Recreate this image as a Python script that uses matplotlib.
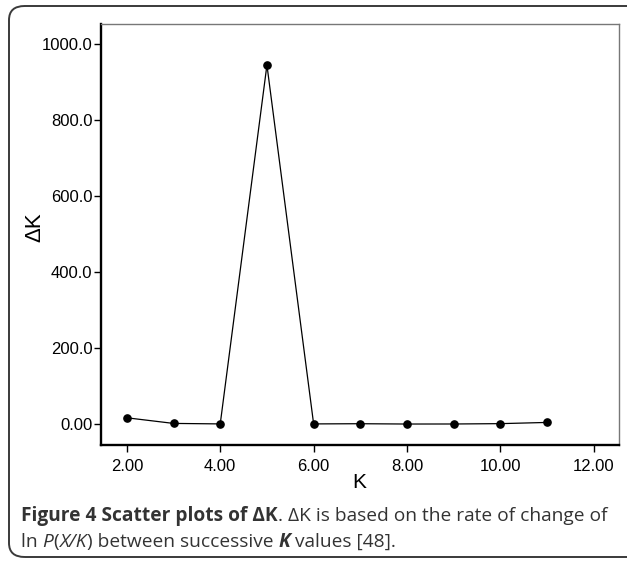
import matplotlib
matplotlib.use('Agg')
import matplotlib.pyplot as plt
from matplotlib.patches import FancyBboxPatch

# Dados
k_valores = [2, 3, 4, 5, 6, 7, 8, 9, 10, 11]
delta_k = [16.6, 1.8, 0.5, 945.0, 0.5, 1.0, 0.2, 0.3, 1.2, 4.4]

x_ticks = [2, 4, 6, 8, 10, 12]
x_rotulos = ['2.00', '4.00', '6.00', '8.00', '10.00', '12.00']
y_ticks = [0, 200, 400, 600, 800, 1000]
y_rotulos = ['0.00', '200.0', '400.0', '600.0', '800.0', '1000.0']

W, H = 627, 562
fig = plt.figure(figsize=(W / 100, H / 100), dpi=100)

# Moldura arredondada em volta da figura
moldura = FancyBboxPatch((9 / W, 5 / H), (W + 20) / W, 551 / H,
                         boxstyle='round,pad=0,rounding_size=0.025',
                         transform=fig.transFigure, fill=False,
                         edgecolor='#3a3a3a', linewidth=1.4)
fig.patches.append(moldura)

ax = fig.add_axes([100.7 / W, 1 - 445 / H, (619 - 100.7) / W, (445 - 24) / H])
ax.plot(k_valores, delta_k, color='black', linewidth=0.9,
        marker='o', markersize=5.2, markerfacecolor='black')

ax.set_xlim(1.44, 12.54)
ax.set_ylim(-55, 1053)
ax.set_xticks(x_ticks)
ax.set_xticklabels(x_rotulos)
ax.set_yticks(y_ticks)
ax.set_yticklabels(y_rotulos)

for lado in ['left', 'bottom']:
    ax.spines[lado].set_linewidth(1.7)
    ax.spines[lado].set_color('black')
for lado in ['top', 'right']:
    ax.spines[lado].set_linewidth(1.0)
    ax.spines[lado].set_color('#777777')

ax.tick_params(axis='both', direction='out', length=5, width=1.0,
               labelsize=12, colors='black')
ax.tick_params(axis='x', pad=5)
ax.tick_params(axis='y', pad=1)
for t in ax.get_xticklabels() + ax.get_yticklabels():
    t.set_family('Liberation Sans')

fig.text(359 / W, 1 - 483 / H, 'K', ha='center', va='center',
         fontsize=15, family='Liberation Sans')
fig.text(35 / W, 1 - 227 / H, 'ΔK', ha='center', va='center', rotation=90,
         fontsize=16, family='Liberation Sans')

# Legenda da figura, montada por pedaços
fig.canvas.draw()
renderer = fig.canvas.get_renderer()


def escreve_linha(x0, y, pedacos, tamanho=13.8):
    x = x0
    for texto, peso, estilo in pedacos:
        t = fig.text(x / W, 1 - y / H, texto, fontsize=tamanho, family='Open Sans',
                     weight=peso, style=estilo, color='#333333', va='baseline')
        bb = t.get_window_extent(renderer=renderer)
        x += bb.width


escreve_linha(21, 521, [
    ('Figure 4 Scatter plots of ΔK', 'bold', 'normal'),
    ('. ΔK is based on the rate of change of', 'normal', 'normal'),
])
escreve_linha(21, 547, [
    ('ln ', 'normal', 'normal'),
    ('P', 'normal', 'italic'),
    ('(', 'normal', 'normal'),
    ('X/K', 'normal', 'italic'),
    (') between successive ', 'normal', 'normal'),
    ('K', 'bold', 'italic'),
    (' values [48].', 'normal', 'normal'),
])

fig.savefig('out.png', dpi=100)
